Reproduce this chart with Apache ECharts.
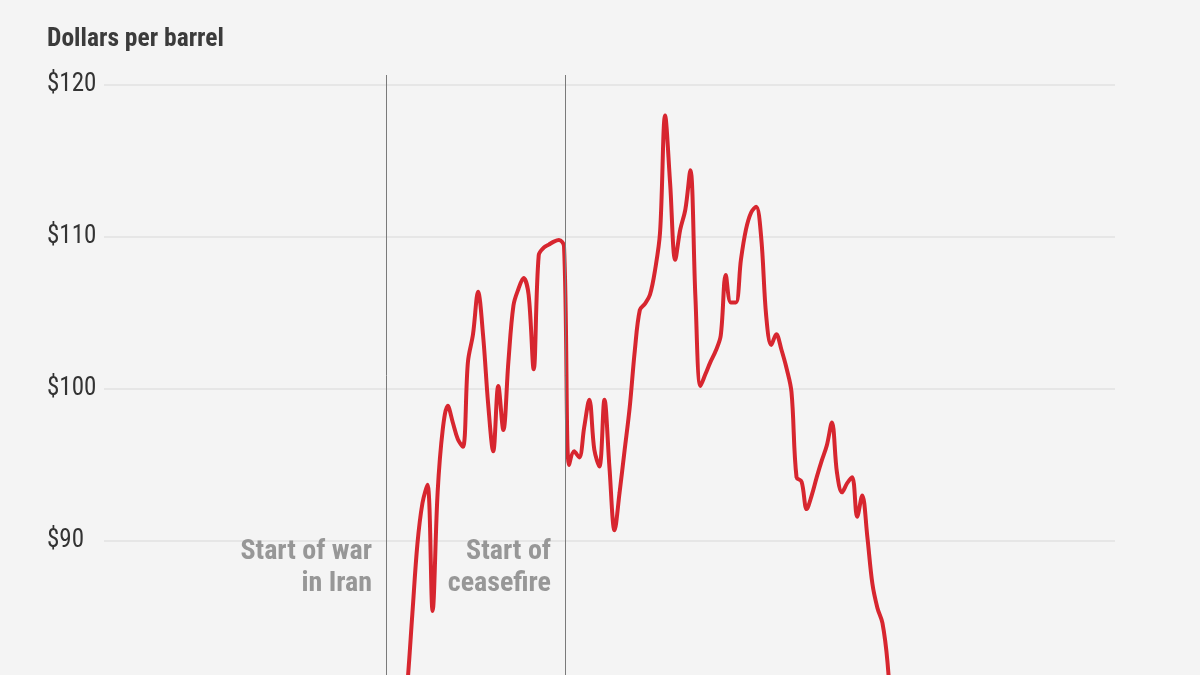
<!DOCTYPE html>
<html>
<head>
<meta charset="utf-8">
<script src="https://cdn.jsdelivr.net/npm/echarts@6.0.0/dist/echarts.min.js"></script>
<style>
  html, body { margin: 0; padding: 0; background: #f4f4f4; }
  #chart { width: 1200px; height: 675px; }
</style>
</head>
<body>
<div id="chart"></div>
<script>
// day index along the x axis, one point per day
const days = [];
for (let d = 59; d <= 156; d++) days.push(d);

// price, dollars per barrel
const prices = [
  77, 80.5, 85.2, 89.8, 92.5, 93.7, 85.4, 93.2, 97.3, 98.9,
  97.8, 96.7, 96.2, 101.8, 103.6, 106.4, 103.5, 99.0, 95.9, 100.2,
  97.3, 101.8, 105.5, 106.6, 107.3, 106.2, 101.3, 108.8, 109.3, 109.5,
  109.7, 109.8, 109.4, 95.0, 95.9, 95.5, 97.5, 99.3, 96.0, 94.9,
  99.3, 94.8, 90.7, 93.2, 96.0, 98.8, 102.5, 105.2, 105.6, 106.2,
  107.8, 110.3, 118.0, 113.5, 108.5, 110.5, 111.8, 114.4, 106.0, 100.2,
  101.0, 101.8, 102.5, 103.5, 107.5, 105.7, 105.7, 108.5, 110.5, 111.6,
  112.0, 110.0, 104.8, 102.9, 103.6, 102.6, 101.4, 99.8, 94.2, 93.9,
  92.1, 93.0, 94.2, 95.3, 96.3, 97.8, 94.5, 93.2, 93.8, 94.2,
  91.6, 93.0, 90.3, 87.2, 85.6, 84.6, 82.0, 77
];

// events marked with a vertical line
const eventDays = [55.8, 91.2];
const eventLabels = ['Start of war\nin Iran', 'Start of\nceasefire'];

const yTicks = [80, 90, 100, 110, 120];

const chart = echarts.init(document.getElementById('chart'));

const labelFont = '"Roboto Condensed", "Liberation Sans Narrow", Roboto, sans-serif';

const option = {
  backgroundColor: '#f4f4f4',
  animation: false,
  title: {
    text: 'Dollars per barrel',
    left: 42,
    top: 22,
    textStyle: {
      fontFamily: labelFont,
      fontWeight: 'bold',
      fontSize: 25.5,
      color: '#3b3b3b'
    }
  },
  grid: { left: 104, right: 85, top: 75, bottom: -18, outerBoundsMode: 'none' },
  xAxis: {
    type: 'value',
    min: 0,
    max: 200,
    axisLine: { show: false },
    axisTick: { show: false },
    axisLabel: { show: false },
    splitLine: { show: false }
  },
  yAxis: {
    type: 'value',
    min: yTicks[0],
    // a little headroom above the top tick for the event lines
    max: 120.66,
    interval: 10,
    axisLine: { show: false },
    axisTick: { show: false },
    axisLabel: {
      align: 'left',
      margin: 57,
      showMaxLabel: false,
      fontFamily: labelFont,
      fontSize: 25,
      color: '#333333',
      formatter: v => (yTicks.indexOf(v) >= 0 ? '$' + v : '')
    },
    splitLine: { showMaxLine: false, lineStyle: { color: '#e6e6e6', width: 2 } }
  },
  series: [{
    type: 'line',
    data: days.map((d, i) => [d, prices[i]]),
    smooth: 0.35,
    showSymbol: false,
    clip: false,
    lineStyle: { color: '#d7262f', width: 4 },
    markLine: {
      silent: true,
      symbol: 'none',
      label: { show: false },
      lineStyle: { color: '#7a7a7a', width: 1, type: 'solid' },
      data: eventDays.map(d => ({ xAxis: d }))
    },
    markPoint: {
      silent: true,
      symbol: 'circle',
      symbolSize: 0,
      data: eventDays.map((d, i) => ({
        coord: [d, 88.2],
        label: {
          show: true,
          position: 'left',
          distance: 14,
          align: 'right',
          formatter: eventLabels[i],
          fontFamily: labelFont,
          fontWeight: 'bold',
          fontSize: 28,
          lineHeight: 32,
          color: '#979797'
        }
      }))
    }
  }]
};

chart.setOption(option);
</script>
</body>
</html>
